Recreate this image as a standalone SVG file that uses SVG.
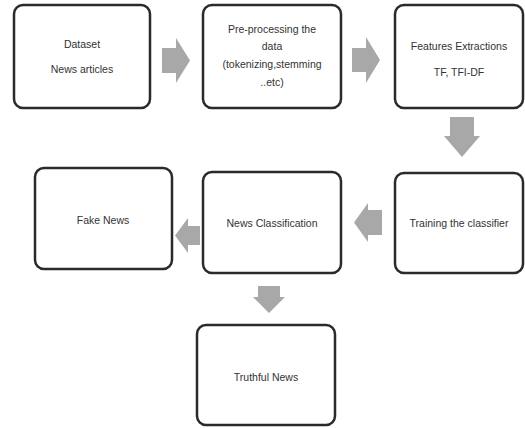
<svg xmlns="http://www.w3.org/2000/svg" width="525" height="428" viewBox="0 0 525 428">
<style>
.box{fill:#fff;stroke:#2a2a2a;stroke-width:2.5}
.arr{fill:#a8a8a8}
text{font-family:"Liberation Sans",Arial,sans-serif;font-size:10.5px;fill:#333;text-anchor:middle}
</style>
<rect width="525" height="428" fill="#fff"/>
<g id="n1"><rect class="box" x="14" y="5" width="136" height="103" rx="9"/><text x="82" y="48">Dataset</text><text x="82" y="73">News articles</text></g>
<g id="n2"><rect class="box" x="203" y="5" width="138" height="103" rx="9"/><text x="272" y="33">Pre-processing the</text><text x="272" y="50">data</text><text x="272" y="68">(tokenizing,stemming</text><text x="272" y="86">..etc)</text></g>
<g id="n3"><rect class="box" x="395" y="5" width="128" height="103" rx="9"/><text x="459" y="50">Features Extractions</text><text x="459" y="76">TF, TFI-DF</text></g>
<g id="n4"><rect class="box" x="35" y="168" width="137" height="101" rx="9"/><text x="103" y="224">Fake News</text></g>
<g id="n5"><rect class="box" x="203" y="172" width="138" height="101" rx="9"/><text x="272" y="227">News Classification</text></g>
<g id="n6"><rect class="box" x="395" y="173" width="128" height="100" rx="9"/><text x="459" y="227">Training the classifier</text></g>
<g id="n7"><rect class="box" x="197" y="325" width="138" height="100" rx="9"/><text x="266" y="381">Truthful News</text></g>
<g id="connectors">
<polygon class="arr" points="162,48 176,48 176,38 190,60.5 176,83 176,73 162,73"/>
<polygon class="arr" points="352,48 366,48 366,37 380,60 366,83 366,72 352,72"/>
<polygon class="arr" points="450,117 474,117 474,136 480,136 462,157 444,136 450,136"/>
<polygon class="arr" points="382,210 368,210 368,203 354,222.5 368,242 368,235 382,235"/>
<polygon class="arr" points="200,226 188,226 188,218 175,235.5 188,253 188,245 200,245"/>
<polygon class="arr" points="258,286 280,286 280,297 285,297 269,313 253,297 258,297"/>
</g>
</svg>
